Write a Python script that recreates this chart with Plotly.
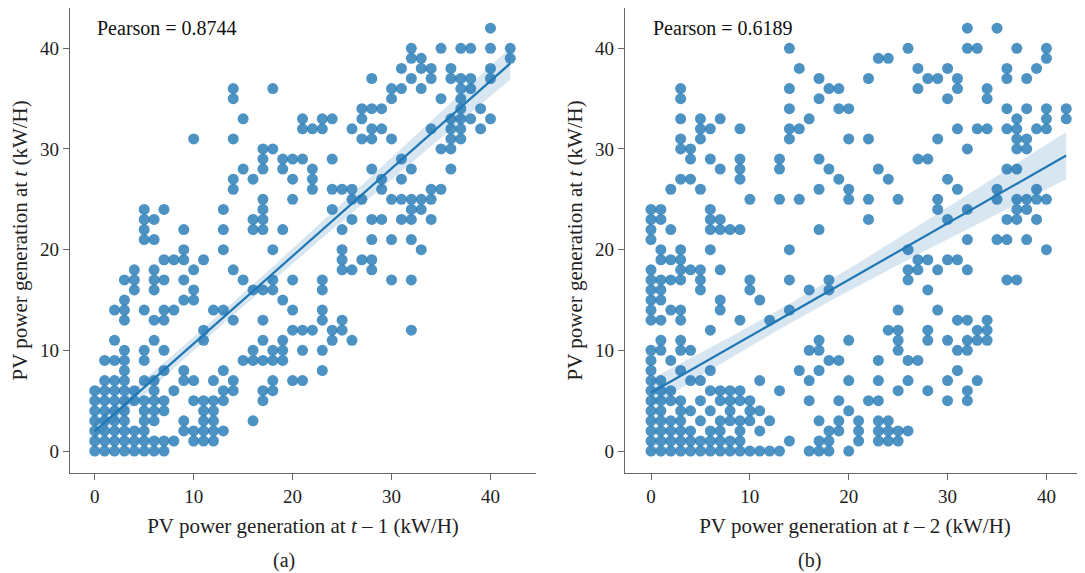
import numpy as np
import plotly.graph_objects as go

# --- dados: para cada valor em t, os valores em t-1 / t-2 ---
# painel (a): t-1 -> t
rows_a = {
    0: [0, 1, 2, 3, 4, 5, 6, 7],
    1: [0, 1, 2, 3, 4, 5, 6, 7, 8, 10, 11, 12],
    2: [0, 1, 2, 3, 4, 5, 9, 10, 11, 12, 13],
    3: [0, 1, 2, 3, 5, 6, 9, 11, 12, 16],
    4: [0, 1, 2, 3, 5, 6, 7, 11, 12],
    5: [0, 1, 2, 3, 4, 5, 6, 7, 10, 11, 12, 13, 17],
    6: [0, 1, 2, 3, 4, 6, 8, 13, 14, 17, 18],
    7: [1, 2, 3, 5, 6, 9, 10, 12, 14, 18, 20, 21],
    8: [3, 7, 9, 13, 23],
    9: [1, 2, 3, 5, 15, 16, 17, 18, 19],
    10: [3, 5, 7, 16, 18, 19, 21, 23],
    11: [2, 6, 11, 17, 19, 24, 26],
    12: [11, 20, 21, 22, 24, 25, 32],
    13: [3, 6, 7, 14, 17, 23, 25],
    14: [2, 3, 5, 7, 8, 12, 13, 20, 23],
    15: [3, 9, 10, 19],
    16: [4, 6, 10, 16, 17, 18, 23],
    17: [3, 4, 6, 7, 9, 15, 18, 20, 23, 30, 32],
    18: [4, 6, 10, 14, 25, 26, 28],
    19: [7, 8, 9, 11, 25, 27, 28],
    20: [9, 13, 18, 25, 33],
    21: [5, 6, 28, 30, 32],
    22: [5, 9, 13, 16, 17, 19, 25],
    23: [5, 6, 16, 17, 26, 28, 29, 31, 32, 34],
    24: [5, 7, 13, 17, 24, 32, 33],
    25: [17, 20, 26, 27, 30, 31, 32, 33, 34],
    26: [14, 22, 24, 25, 26, 29, 34, 35],
    27: [14, 16, 20, 22, 29, 31],
    28: [15, 17, 19, 22, 28, 32, 36],
    29: [17, 19, 20, 21, 24, 31],
    30: [17, 18, 35, 36],
    31: [10, 14, 27, 28, 30, 36, 37],
    32: [21, 22, 23, 26, 28, 29, 34, 36, 37, 39],
    33: [15, 21, 23, 24, 27, 36, 37, 38, 40],
    34: [27, 28, 29, 37, 39],
    35: [14, 30, 35, 37],
    36: [14, 18, 30, 31, 33, 37, 38],
    37: [28, 32, 34, 36, 37, 38, 40],
    38: [31, 33, 34, 36, 40],
    39: [32, 33, 42],
    40: [32, 35, 37, 38, 40, 42],
    42: [40],
}

# painel (b): t-2 -> t
rows_b = {
    0: [0, 1, 2, 3, 4, 5, 6, 7, 8, 9, 10, 11, 12, 13, 16, 17, 18, 20],
    1: [0, 1, 2, 3, 4, 5, 6, 7, 8, 9, 14, 17, 18, 21, 23, 24, 25],
    2: [0, 1, 2, 3, 4, 6, 7, 9, 11, 18, 19, 21, 23, 24, 25, 26],
    3: [0, 1, 2, 3, 5, 7, 8, 9, 10, 12, 17, 19, 21, 23, 24],
    4: [0, 1, 3, 4, 6, 8, 10, 11, 20],
    5: [0, 1, 2, 3, 5, 7, 8, 9, 10, 16, 19, 22, 23, 30, 32],
    6: [0, 1, 2, 6, 7, 8, 9, 13, 25, 28, 32],
    7: [0, 1, 4, 5, 11, 16, 20, 23, 26, 30, 33],
    8: [0, 3, 6, 15, 17, 31],
    9: [0, 2, 18, 19, 23, 26, 27],
    10: [0, 1, 3, 4, 16, 17, 25, 31, 32],
    11: [1, 3, 17, 20, 25, 28, 30, 32, 33, 34],
    12: [6, 24, 25, 28, 33, 34],
    13: [0, 1, 3, 9, 12, 31, 32, 34],
    14: [0, 2, 3, 7, 14, 25, 29],
    15: [0, 1, 7, 11],
    16: [0, 1, 5, 10, 16, 18, 28],
    17: [0, 1, 2, 3, 5, 10, 14, 18, 26, 36, 37],
    18: [0, 3, 4, 5, 7, 26, 27, 29, 32],
    19: [1, 2, 3, 27, 28, 30, 31],
    20: [1, 3, 6, 14, 26, 40],
    21: [0, 32, 35, 36, 38],
    22: [0, 2, 6, 7, 8, 9, 17],
    23: [0, 1, 6, 7, 22, 30, 36, 37, 39],
    24: [0, 1, 6, 29, 32, 37, 38],
    25: [10, 13, 15, 20, 22, 25, 29, 35, 37, 38, 39, 40],
    26: [2, 5, 17, 20, 31, 35, 39],
    27: [3, 4, 9, 19, 24, 30],
    28: [7, 9, 13, 18, 23, 36, 37],
    29: [4, 6, 9, 13, 17, 27, 28],
    30: [3, 4, 32, 37, 38],
    31: [3, 5, 14, 20, 22, 29, 37, 38],
    32: [5, 6, 9, 14, 15, 31, 33, 34, 36, 37, 39, 40],
    33: [3, 5, 7, 16, 37, 40, 42],
    34: [14, 19, 20, 36, 38, 40, 42],
    35: [3, 17, 30, 34],
    36: [3, 14, 18, 19, 27, 31, 34],
    37: [17, 22, 28, 29, 31, 36, 38],
    38: [15, 27, 30, 36, 39],
    39: [23, 24, 40],
    40: [14, 26, 32, 33, 37, 40],
    42: [32, 35],
}

# horas de noite (0, 0) repetidas: ficam escondidas sob o mesmo ponto,
# mas puxam a reta para baixo (estimado pela posição da reta na figura)
noites_a = 110
noites_b = 100

pearson_a = 0.8744
pearson_b = 0.6189
tick_vals = [0, 10, 20, 30, 40]

AZUL = 'rgb(31,119,180)'
FONTE = 'Liberation Serif'
W, H = 1077, 565   # a página tem 8px de margem no body


def pontos(rows, noites=0):
    xs, ys = [0] * noites, [0] * noites
    for y, lista in rows.items():
        for x in lista:
            xs.append(x)
            ys.append(y)
    return np.array(xs, float), np.array(ys, float)


def regressao(x, y):
    # reta de mínimos quadrados + IC 95% da média (como o regplot)
    n = len(x)
    b, a = np.polyfit(x, y, 1)
    xg = np.linspace(x.min(), x.max(), 100)
    yg = a + b * xg
    resid = y - (a + b * x)
    s = np.sqrt((resid ** 2).sum() / (n - 2))
    se = s * np.sqrt(1 / n + (xg - x.mean()) ** 2 / ((x - x.mean()) ** 2).sum())
    return xg, yg, yg - 1.97 * se, yg + 1.97 * se


fig = go.Figure()

paineis = [(rows_a, noites_a, pearson_a, 'x', 'y'), (rows_b, noites_b, pearson_b, 'x2', 'y2')]
for rows, noites, r, xa, ya in paineis:
    x, y = pontos(rows)               # pontos visíveis
    xr, yr = pontos(rows, noites)     # todas as observações, para a reta
    xg, yg, lo, hi = regressao(xr, yr)
    fig.add_trace(go.Scatter(x=x, y=y, mode='markers', xaxis=xa, yaxis=ya,
                             marker=dict(size=11, color=AZUL, opacity=0.8, line=dict(width=0)),
                             showlegend=False))
    fig.add_trace(go.Scatter(x=np.concatenate([xg, xg[::-1]]), y=np.concatenate([hi, lo[::-1]]),
                             fill='toself', fillcolor='rgba(31,119,180,0.18)', line=dict(width=0),
                             mode='lines', xaxis=xa, yaxis=ya, showlegend=False, hoverinfo='skip'))
    fig.add_trace(go.Scatter(x=xg, y=yg, mode='lines', line=dict(color=AZUL, width=2.2),
                             xaxis=xa, yaxis=ya, showlegend=False))
    fig.add_annotation(x=0, y=42, xref=xa, yref=ya, xanchor='left', yanchor='middle',
                       text=f'Pearson = {r:.4f}', showarrow=False,
                       font=dict(family=FONTE, size=20, color='#111'))

fonte_tit = dict(family=FONTE, size=21, color='#222')
eixo = dict(showgrid=False, zeroline=False, showline=True, linecolor='#666', linewidth=1.2,
            ticks='outside', ticklen=6, tickcolor='#666', tickvals=tick_vals, automargin=False,
            tickfont=dict(family=FONTE, size=19, color='#222'))

dom_y = [0.1775, 1.0]
fig.update_layout(
    width=W, height=H,
    margin=dict(l=0, r=0, t=0, b=0),
    plot_bgcolor='white', paper_bgcolor='white',
    xaxis=dict(eixo, domain=[62 / W, 528 / W], range=[-2.5, 44.6],
               title=dict(text='PV power generation at <i>t</i> – 1 (kW/H)', standoff=12, font=fonte_tit)),
    yaxis=dict(eixo, domain=dom_y, range=[-2.15, 44.0],
               title=dict(text='PV power generation at <i>t</i> (kW/H)', standoff=6, font=fonte_tit)),
    xaxis2=dict(eixo, domain=[617 / W, 1.0], range=[-2.63, 43.9], anchor='y2',
                title=dict(text='PV power generation at <i>t</i> – 2 (kW/H)', standoff=12, font=fonte_tit)),
    yaxis2=dict(eixo, domain=dom_y, range=[-2.15, 44.0], anchor='x2',
                title=dict(text='PV power generation at <i>t</i> (kW/H)', standoff=6, font=fonte_tit)),
)

for txt, xp in [('(a)', 263 / W), ('(b)', 815 / W)]:
    fig.add_annotation(x=xp, y=13 / H, xref='paper', yref='paper', text=txt, showarrow=False,
                       yanchor='middle', font=dict(family=FONTE, size=20, color='#222'))

fig.write_html('out.html')
